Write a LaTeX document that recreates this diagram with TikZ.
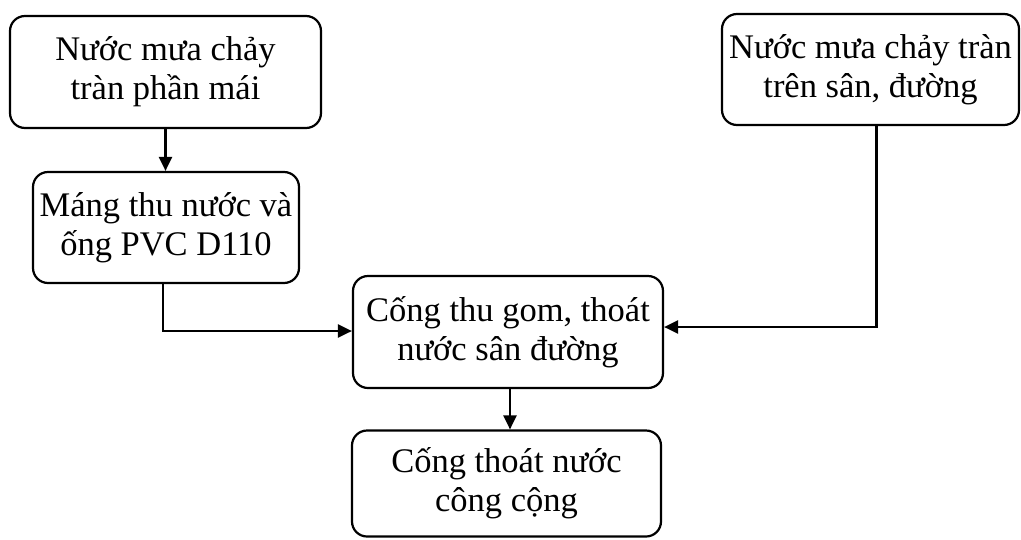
\documentclass[tikz,border=0pt]{standalone}
\usepackage{fontspec}
\setmainfont{Liberation Serif}
\usetikzlibrary{arrows.meta}
\tikzset{
    khoi/.style={draw, line width=2.2pt, rounded corners=15pt, align=center, inner sep=0pt,
        font=\fontsize{34.5}{39}\selectfont},
    muiten/.style={line width=2.2pt, -{Triangle[length=14pt,width=13pt]}}
}

\begin{document}
\begin{tikzpicture}[x=1pt,y=-1pt]
                        \useasboundingbox (0,0) rectangle (1021,539);
                        \node[khoi, minimum width=311pt, minimum height=112pt] (maihien) at (165.5,72) {Nước mưa chảy\\tràn phần mái};
                        \node[khoi, minimum width=266pt, minimum height=111pt] (mang) at (166,227.5) {Máng thu nước và\\ống PVC D110};
                        \node[khoi, minimum width=297pt, minimum height=111pt] (sanduong) at (870.5,69.5) {Nước mưa chảy tràn\\trên sân, đường};
                        \node[khoi, minimum width=310pt, minimum height=112pt] (congthu) at (508,332) {Cống thu gom, thoát\\nước sân đường};
                        \node[khoi, minimum width=309pt, minimum height=106pt] (congchung) at (506.5,483.5) {Cống thoát nước\\công cộng};

                        \draw[muiten] (maihien.south) -- (maihien.south |- mang.north);
                        \draw[muiten] ([xshift=-3pt]mang.south) |- ([yshift=1pt]congthu.west);
                        \draw[muiten] ([xshift=6pt]sanduong.south) |- ([yshift=5pt]congthu.east);
                        \draw[muiten] ([xshift=2pt]congthu.south) -- ([xshift=2pt]congthu.south |- congchung.north);
                    \end{tikzpicture}
\end{document}
